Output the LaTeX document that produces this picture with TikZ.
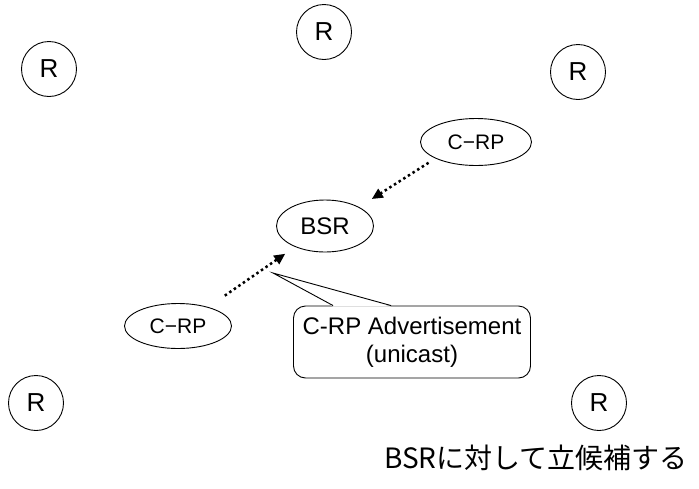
\documentclass[tikz,border=0pt]{standalone}
\usepackage{fontspec}
\setmainfont{Liberation Sans}
\newfontfamily\jpfont{Noto Sans CJK JP}
\usetikzlibrary{arrows.meta}
\usetikzlibrary{shapes.geometric}
\usetikzlibrary{calc}

\begin{document}
\begin{tikzpicture}[x=1pt,y=-1pt,line width=0.9pt,
  router/.style={draw, circle, minimum size=55pt, inner sep=0pt, font=\fontsize{26}{30}\selectfont},
  rpnode/.style={draw, ellipse, inner sep=0pt, font=\fontsize{21}{24}\selectfont},
  advert/.style={line width=2.5pt, dash pattern=on 2.5pt off 3pt, -{Triangle[length=11pt,width=10pt]}},
  callbox/.style={draw, rounded corners=12pt, minimum width=237pt, minimum height=72pt, align=center, font=\fontsize{24}{28}\selectfont}]
\useasboundingbox (0,0) rectangle (699,488);

%%%%%%%%%% routers
\node[router] (r1) at (49,69) {R};
\node[router] (r2) at (324,32) {R};
\node[router] (r3) at (578,72) {R};
\node[router] (r4) at (36,403) {R};
\node[router] (r5) at (599,403) {R};

%%%%%%%%%% BSR and candidates
\node[rpnode, minimum width=97pt, minimum height=52pt, font=\fontsize{24}{28}\selectfont] (bsr) at (325,226) {BSR};
\node[rpnode, minimum width=111pt, minimum height=47pt] (crpA) at (476,142) {C−RP};
\node[rpnode, minimum width=107pt, minimum height=45pt] (crpB) at (178,326) {C−RP};

\draw[advert, shorten <=8pt, shorten >=15pt] (crpA.202) -- (bsr.29);
\draw[advert, shorten <=20pt, shorten >=12pt] (crpB.32) -- (bsr.215);

%%%%%%%%%% callout
\node[callbox] (adv) at (412,342) {C-RP Advertisement\\(unicast)};
\coordinate (tip) at (273,273);
\fill[white] ($(adv.north west)+(40,1)$) -- (tip) -- ($(adv.north west)+(98,1)$) -- cycle;
\draw ($(adv.north west)+(40,0)$) -- (tip) -- ($(adv.north west)+(98,0)$);

%%%%%%%%%% caption
\node[font=\jpfont\fontsize{28}{32}\selectfont] (cap) at (536,458) {BSRに対して立候補する};
\end{tikzpicture}
\end{document}
